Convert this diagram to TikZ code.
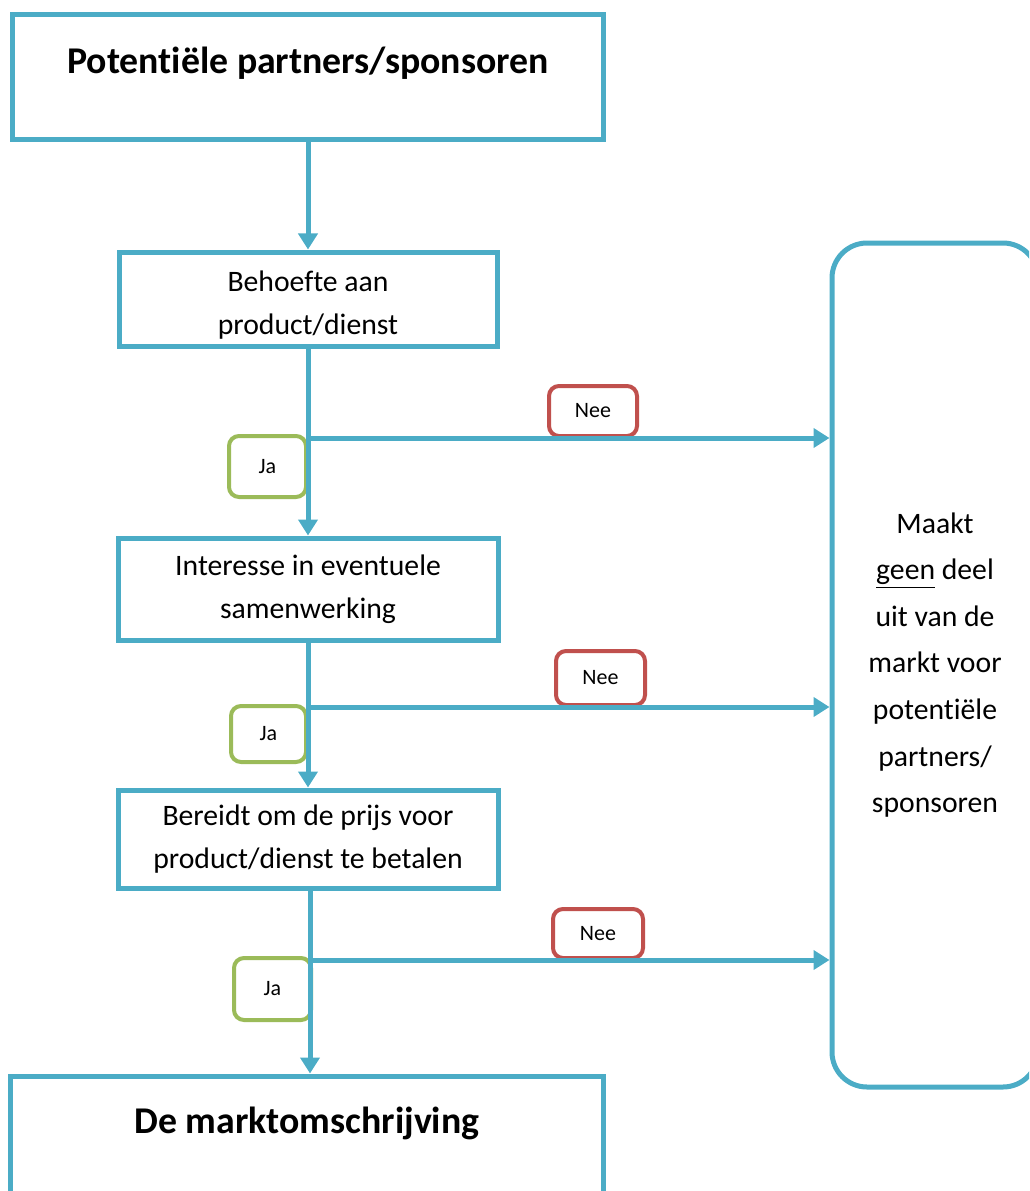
\documentclass[tikz,border=0pt]{standalone}
\usepackage{fontspec}
\setmainfont[Ligatures=NoCommon]{Carlito}
\usetikzlibrary{arrows.meta}
\usetikzlibrary{positioning}

\definecolor{lijnblauw}{HTML}{4BACC6}
\definecolor{neerood}{HTML}{C0504D}
\definecolor{jagroen}{HTML}{9BBB59}

\tikzset{
  stapbox/.style={draw=lijnblauw, line width=1mm, fill=white, align=center, inner sep=0pt,
    font=\fontsize{16.9}{24.5}\selectfont},
  keuzebox/.style={draw=#1, line width=0.8mm, rounded corners=2mm, fill=white, inner sep=0pt,
    font=\fontsize{12.5}{14}\selectfont},
  pijl/.style={draw=lijnblauw, line width=1mm, -{Triangle[length=3.2mm,width=3.8mm]}},
  px/.style={minimum width=#1*0.2mm},
  py/.style={minimum height=#1*0.2mm},
}

\begin{document}
\begin{tikzpicture}[x=0.2mm, y=-0.2mm]
            \useasboundingbox (0,0) rectangle (1029,1191);
            \clip (0,0) rectangle (1029,1191);

            % Begin- en eindbox
            \node[stapbox, px=591, py=125] (potentieel) at (308,77.5) {};
            \node[font=\fontsize{21.5}{26}\bfseries] (potentieeltekst) at (308,63) {Potentiële partners/sponsoren};
            \node[stapbox, px=593, py=180] (markt) at (306.5,1166) {};
            \node[font=\fontsize{21.5}{26}\bfseries] (markttekst) at (307,1123) {De marktomschrijving};

            % Vragen
            \node[stapbox, px=378, py=94] (behoefte) at (308,299) {};
            \node[font=\fontsize{16.9}{24.5}\selectfont, align=center] (behoeftetekst) at (308,305) {Behoefte aan\\product/dienst};
            \node[stapbox, px=380, py=102] (interesse) at (308,589) {Interesse in eventuele\\samenwerking};
            \node[stapbox, px=380, py=98] (bereid) at (308,839) {Bereidt om de prijs voor\\product/dienst te betalen};

            % Geen markt
            \node[draw=lijnblauw, line width=1mm, rounded corners=7mm, px=206, py=844,
              align=center, font=\fontsize{16.9}{26.5}\selectfont] (geen) at (935,665)
              {Maakt\\\underline{geen} deel\\uit van de\\markt voor\\potentiële\\partners/\\sponsoren};

            % Ja / Nee
            \node[keuzebox=neerood, px=88, py=50] (nee1) at (593,411) {Nee};
            \node[keuzebox=jagroen, px=77, py=61] (ja1) at (267.5,466.5) {Ja};
            \node[keuzebox=neerood, px=89, py=54] (nee2) at (600.5,678) {Nee};
            \node[keuzebox=jagroen, px=75, py=56] (ja2) at (268.5,734) {Ja};
            \node[keuzebox=neerood, px=90, py=49] (nee3) at (598,933.5) {Nee};
            \node[keuzebox=jagroen, px=77, py=62] (ja3) at (272.5,989) {Ja};

            % Splitsingen
            \coordinate (splits1) at (308,438);
            \coordinate (splits2) at (308,707);
            \coordinate (splits3) at (310,960);

            % Pijlen
            \draw[pijl] (potentieel.south) -- (behoefte.north);
            \draw[pijl] (behoefte.south) -- (interesse.north);
            \draw[pijl] (interesse.south) -- (bereid.north);
            \draw[pijl] (bereid.south -| splits3) -- (splits3 |- markt.north);
            \draw[pijl] (splits1) -- (splits1 -| geen.west);
            \draw[pijl] (splits2) -- (splits2 -| geen.west);
            \draw[pijl] (splits3) -- (splits3 -| geen.west);

\end{tikzpicture}
\end{document}
